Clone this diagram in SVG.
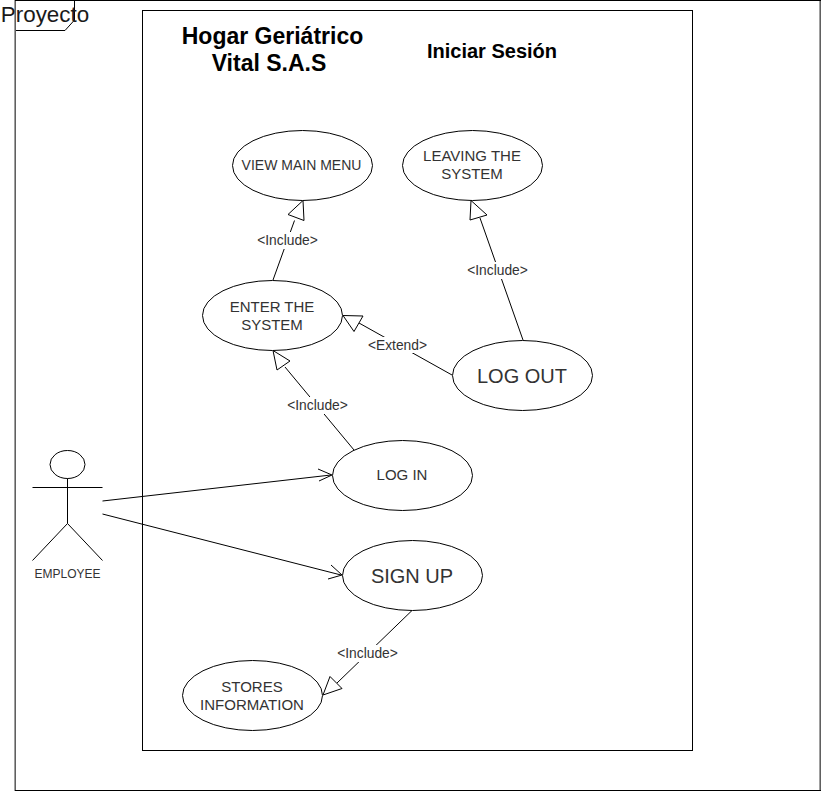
<svg xmlns="http://www.w3.org/2000/svg" width="821" height="791" viewBox="0 0 821 791">
<style>
text{font-family:"Liberation Sans",Arial,sans-serif;fill:#333;text-anchor:middle}
.s{fill:none;stroke:#000;stroke-width:1}
.uc{fill:#fff;stroke:#000;stroke-width:1}
.h{fill:#fff;stroke:#000;stroke-width:1}
.t14{font-size:14px}
.t15{font-size:15px}
.t20{font-size:20px}
.lb{font-size:13.800px}
.b{font-weight:bold;fill:#000}
.lbg{fill:#fff;stroke:none}
</style>
<rect width="821" height="791" fill="#fff"/>
<g id="frame">
<rect class="s" x="15.500" y="0.500" width="805" height="790"/>
<path d="M15 0.500H74.500V20L65 30.500H15.500" class="s"/>
<path d="M15 0V791" stroke="#808080" stroke-width="1.500" fill="none"/>
<path d="M820 0V791" stroke="#808080" stroke-width="1.500" fill="none"/>
<path d="M15 0.500H821M15 790.500H821" stroke="#000" fill="none"/>
<text x="45" y="22" style="font-size:22.400px;fill:#1a1a1a">Proyecto</text>
</g>
<g id="system">
<rect class="s" x="142.500" y="10.500" width="550" height="740"/>
<text class="b" x="272.500" y="44" style="font-size:23px">Hogar Geriátrico</text>
<text class="b" x="269" y="71" style="font-size:23px">Vital S.A.S</text>
<text class="b" x="492" y="58" style="font-size:20px">Iniciar Sesión</text>
</g>
<g id="connectors">
<path class="s" d="M273 280L294.500 220.500"/>
<path class="h" d="M303 200.500L304 220.500L288 214.500Z"/>
<path class="s" d="M523 340L480 218"/>
<path class="h" d="M471 200.500L487 215L470 220Z"/>
<path class="s" d="M452 375L359 323"/>
<path class="h" d="M343 315.500L363 316L354 331.500Z"/>
<path class="s" d="M354 450L285 367"/>
<path class="h" d="M273 350.500L290 361L277 370Z"/>
<path class="s" d="M412 610.500L337 683"/>
<path class="h" d="M323 695L330 676.500L342 688.500Z"/>
<path class="s" d="M102.500 501L331 475M102.500 514L341 575"/>
<path class="s" d="M318 469L332 475L319 481M331 565L342 575L328 579"/>
<rect class="lbg" x="257" y="232" width="61" height="17"/>
<text class="lb" x="287.500" y="245">&lt;Include&gt;</text>
<rect class="lbg" x="467" y="262" width="61" height="17"/>
<text class="lb" x="497.500" y="275">&lt;Include&gt;</text>
<rect class="lbg" x="369" y="337" width="58" height="16"/>
<text class="lb" x="397.500" y="350">&lt;Extend&gt;</text>
<rect class="lbg" x="288" y="397" width="59" height="17"/>
<text class="lb" x="317.500" y="410">&lt;Include&gt;</text>
<rect class="lbg" x="338" y="645" width="59" height="17"/>
<text class="lb" x="367.500" y="658">&lt;Include&gt;</text>
</g>
<g id="view-main-menu"><ellipse class="uc" cx="302.500" cy="165.500" rx="70" ry="35"/><text class="t14" x="301.500" y="170">VIEW MAIN MENU</text></g>
<g id="leaving"><ellipse class="uc" cx="472.500" cy="165.500" rx="70" ry="35"/><text class="t15" x="472" y="161">LEAVING THE</text><text class="t15" x="472" y="179">SYSTEM</text></g>
<g id="enter"><ellipse class="uc" cx="272.500" cy="315.500" rx="70" ry="35"/><text class="t15" x="272" y="312">ENTER THE</text><text class="t15" x="272" y="330">SYSTEM</text></g>
<g id="log-out"><ellipse class="uc" cx="522.500" cy="375.500" rx="70" ry="35"/><text class="t20" x="522" y="383">LOG OUT</text></g>
<g id="log-in"><ellipse class="uc" cx="402.500" cy="475.500" rx="70" ry="35"/><text class="t15" x="402" y="480">LOG IN</text></g>
<g id="sign-up"><ellipse class="uc" cx="412.500" cy="575.500" rx="70" ry="35"/><text class="t20" x="412" y="583">SIGN UP</text></g>
<g id="stores"><ellipse class="uc" cx="252.500" cy="695.500" rx="70" ry="35"/><text class="t15" x="252" y="692">STORES</text><text class="t15" x="252" y="710">INFORMATION</text></g>
<g id="employee">
<ellipse class="uc" cx="67.500" cy="464.500" rx="17.500" ry="14"/>
<path class="s" d="M67.500 478.500V523.500M32.500 487.500H102.500M67.500 523.500L32.500 560.500M67.500 523.500L102.500 560.500"/>
<text x="67.500" y="578" style="font-size:12px">EMPLOYEE</text>
</g>
</svg>
